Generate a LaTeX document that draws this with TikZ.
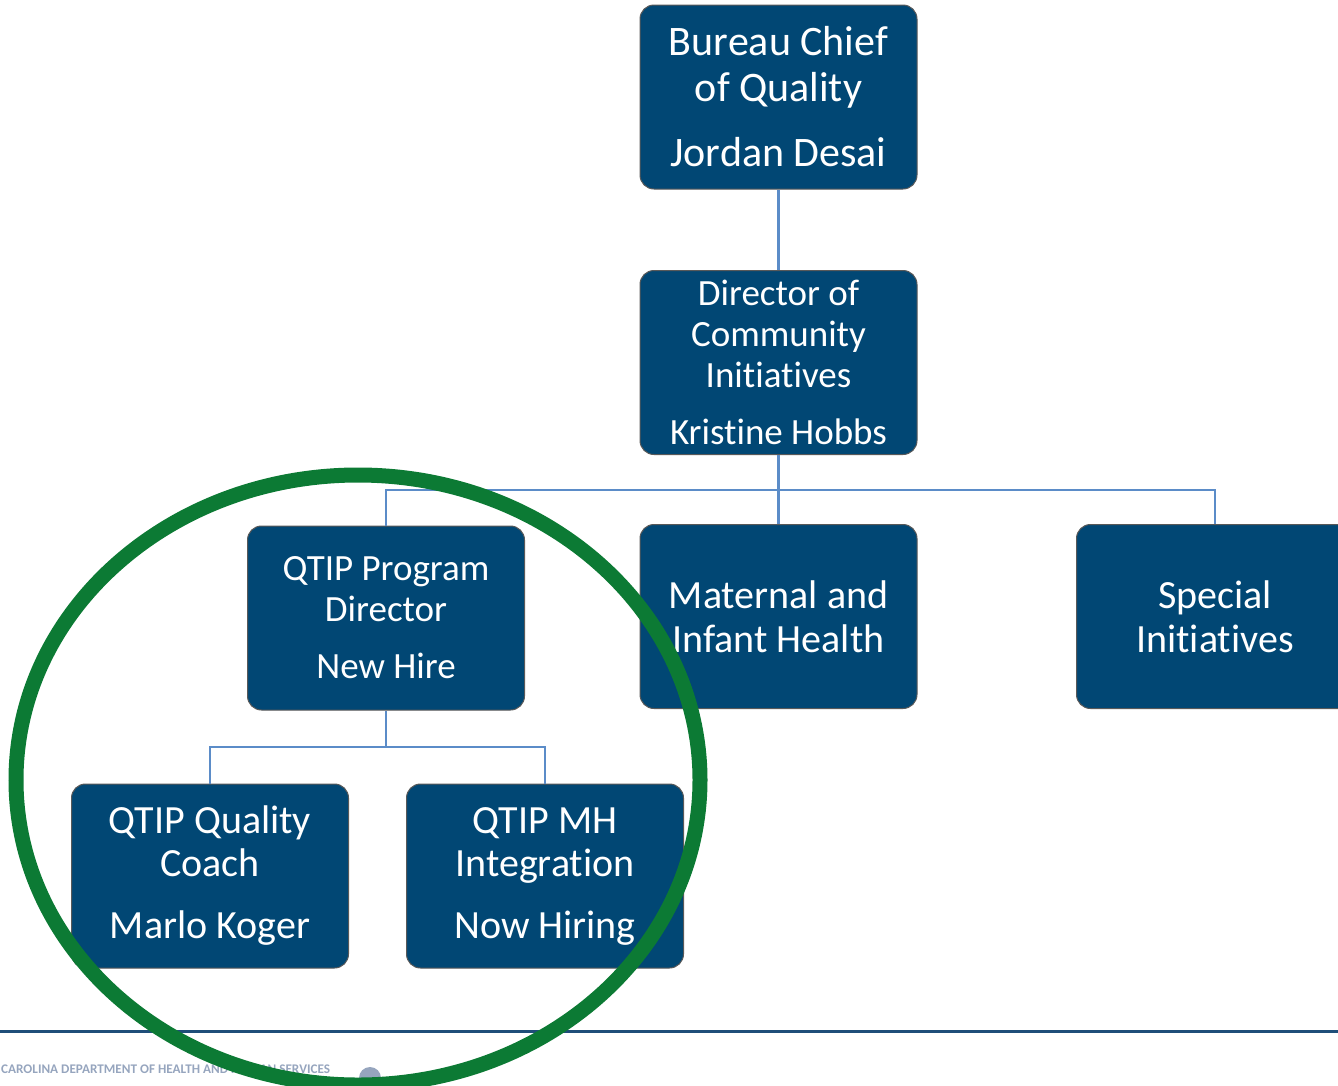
\documentclass[tikz,border=0pt]{standalone}
\usepackage{fontspec}
\setmainfont[Ligatures={NoCommon}]{Carlito}
\definecolor{boxblue}{RGB}{1,71,116}
\definecolor{linkblue}{RGB}{91,140,200}
\definecolor{ringgreen}{RGB}{12,122,52}
\definecolor{footblue}{RGB}{31,78,121}
\definecolor{footgray}{RGB}{150,165,190}
\begin{document}
\begin{tikzpicture}[x=1pt,y=-1pt,
  orgbox/.style={draw=black!65, line width=1pt, fill=boxblue, rounded corners=14pt,
    minimum width=277pt, minimum height=184pt, inner sep=0pt, text=white, align=center},
  link/.style={draw=linkblue, line width=2.4pt},
  fA/.style={font=\fontsize{42}{46}\selectfont},
  fB/.style={font=\fontsize{37}{41}\selectfont},
  fC/.style={font=\fontsize{40}{44}\selectfont},
  fD/.style={font=\fontsize{40}{43}\selectfont}]
\useasboundingbox (0,0) rectangle (1338,1085);
\clip (0,0) rectangle (1338,1085);

% boxes
\node[orgbox, fA] (chief) at (778.5,97) {Bureau Chief\\of Quality\\[19pt]Jordan Desai};
\node[orgbox, fB] (dir) at (778.5,362.5) {Director of\\Community\\Initiatives\\[16pt]Kristine Hobbs};
\node[orgbox, fB] (qtip) at (386,618) {QTIP Program\\Director\\[16pt]New Hire};
\node[orgbox, fC] (mih) at (778.5,616.5) {Maternal and\\Infant Health};
\node[orgbox, fC] (spec) at (1215,616.5) {Special\\Initiatives};
\node[orgbox, fD] (coach) at (210,876) {QTIP Quality\\Coach\\[19pt]Marlo Koger};
\node[orgbox, fD] (mh) at (545,876) {QTIP MH\\Integration\\[19pt]Now Hiring};

% connectors
\coordinate (j1) at (778.5,490);
\coordinate (j2) at (386,747);
\draw[link] (chief.south) -- (dir.north);
\draw[link] (dir.south) -- (j1);
\draw[link] (j1) -| (qtip.north);
\draw[link] (j1) -- (mih.north);
\draw[link] (j1) -| (spec.north);
\draw[link] (qtip.south) -- (j2);
\draw[link] (j2) -| (coach.north);
\draw[link] (j2) -| (mh.north);

% footer
\coordinate (fl) at (0,1031);
\coordinate (fr) at (1338,1031);
\draw[footblue, line width=3pt] (fl) -- (fr);
\node[anchor=base west, inner sep=0pt, text=footgray, font=\bfseries\fontsize{13.2}{15}\selectfont] (dept) at (1,1073) {CAROLINA DEPARTMENT OF HEALTH AND HUMAN SERVICES};
\fill[footgray] (370,1078) circle (11);

% green ring
\draw[ringgreen, line width=15pt] (358,780) ellipse [x radius=342, y radius=305];
\end{tikzpicture}
\end{document}
